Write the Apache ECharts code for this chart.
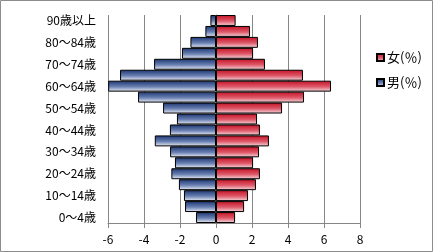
<!DOCTYPE html>
<html><head><meta charset="utf-8">
<script src="https://cdn.jsdelivr.net/npm/echarts@6/dist/echarts.min.js"></script>
<style>html,body{margin:0;padding:0;background:#fff}#c{width:433px;height:252px}</style>
</head><body><div id="c"></div>
<script>
var categories = ["0～4歳","5～9歳","10～14歳","15～19歳","20～24歳","25～29歳","30～34歳","35～39歳","40～44歳","45～49歳","50～54歳","55～59歳","60～64歳","65～69歳","70～74歳","75～79歳","80～84歳","85～89歳","90歳以上"];
var female = [1.06,1.56,1.78,2.22,2.44,2.06,2.39,2.94,2.44,2.28,3.67,4.89,6.39,4.83,2.72,2.06,2.33,1.89,1.09];
var male = [-1.11,-1.72,-1.78,-2.06,-2.48,-2.28,-2.55,-3.40,-2.56,-2.17,-2.94,-4.33,-5.99,-5.33,-3.44,-1.89,-1.42,-0.59,-0.31];
var seriesNames = ['女(％)','男(％)'];
var xTicks = {min:-6, max:8, interval:2};

var chart = echarts.init(document.getElementById('c'), null, {renderer:'canvas'});
var font = '"Noto Sans CJK JP", "Noto Sans", sans-serif';
var gMale = new echarts.graphic.LinearGradient(0,0,0,1,[{offset:0,color:'#1a3470'},{offset:0.55,color:'#6a80b2'},{offset:1,color:'#eef1f8'}]);
var gFemale = new echarts.graphic.LinearGradient(0,0,0,1,[{offset:0,color:'#c40f24'},{offset:0.55,color:'#de5a6a'},{offset:1,color:'#f6dde1'}]);
chart.setOption({
  animation:false,
  textStyle:{fontFamily:font},
  graphic:[{type:'rect',shape:{x:0.5,y:0.5,width:432,height:251},style:{fill:'none',stroke:'#8c8c8c',lineWidth:1}}],
  grid:{left:108,right:73,top:15,bottom:29},
  legend:{
    orient:'vertical', left:371, top:46, itemWidth:7, itemHeight:7, itemGap:12,
    icon:'rect', data:seriesNames,
    textStyle:{fontSize:13,color:'#000',fontFamily:font,padding:[0,0,0,-2]}
  },
  xAxis:{
    type:'value', min:xTicks.min, max:xTicks.max, interval:xTicks.interval,
    axisLine:{show:true,lineStyle:{color:'#868686'}},
    axisTick:{show:true,length:5,lineStyle:{color:'#868686'}},
    axisLabel:{color:'#000',fontSize:12,margin:10},
    splitLine:{show:true,lineStyle:{color:'#868686'}}
  },
  yAxis:{
    type:'category', data:categories,
    axisLine:{show:true,lineStyle:{color:'#868686'}},
    axisTick:{show:false},
    axisLabel:{interval:1,color:'#000',fontSize:12,margin:12}
  },
  series:[
    {name:seriesNames[0],type:'bar',data:female,barCategoryGap:'0%',barGap:'-100%',
     itemStyle:{color:gFemale,borderColor:'#000',borderWidth:1}},
    {name:seriesNames[1],type:'bar',data:male,barCategoryGap:'0%',barGap:'-100%',
     itemStyle:{color:gMale,borderColor:'#000',borderWidth:1}}
  ]
});
</script></body></html>
